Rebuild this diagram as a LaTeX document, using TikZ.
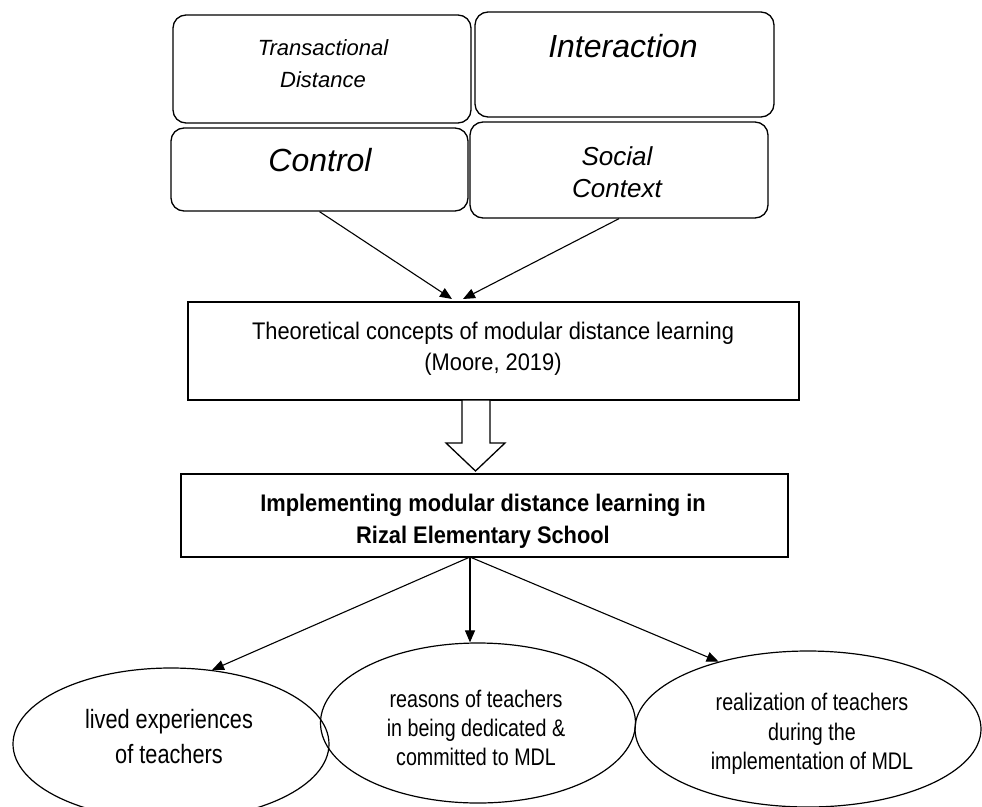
\documentclass[tikz,border=0pt]{standalone}
\usepackage{fontspec}
\setmainfont{Liberation Sans}
\newfontfamily\narrowfont{Liberation Sans}[FakeStretch=0.82]
\newfontfamily\semifont{Liberation Sans}[FakeStretch=0.91]
\usetikzlibrary{arrows.meta,shapes.geometric}
\begin{document}
\begin{tikzpicture}[x=1pt,y=-1pt,
  tbox/.style={draw, rounded corners=13pt, line width=1.3pt, inner sep=0pt},
  sbox/.style={draw, line width=1.3pt, inner sep=0pt},
  ell/.style={draw, ellipse, line width=1.2pt, inner sep=0pt},
  conn/.style={line width=1.1pt, -{Triangle[length=12pt,width=10pt]}},
  lbl/.style={align=center, inner sep=0pt}]
\useasboundingbox (0,0) rectangle (982,806);
% top boxes
\node[tbox, minimum width=298pt, minimum height=108pt] (td) at (322,69) {};
\node[lbl, font=\itshape\fontsize{22}{32}\selectfont] (tdt) at (323,64) {Transactional\\Distance};
\node[tbox, minimum width=299pt, minimum height=105pt] (inter) at (624.5,64.5) {};
\node[lbl, font=\itshape\fontsize{32}{38}\selectfont] (intert) at (623,46) {Interaction};
\node[tbox, minimum width=297pt, minimum height=83pt] (ctrl) at (319.5,169.5) {};
\node[lbl, font=\itshape\fontsize{32}{38}\selectfont] (ctrlt) at (320,160) {Control};
\node[tbox, minimum width=298pt, minimum height=96pt] (soc) at (619,170) {};
\node[lbl, font=\itshape\fontsize{26}{32}\selectfont] (soct) at (617,172) {Social\\Context};
% theoretical
\node[sbox, minimum width=611pt, minimum height=98pt] (theo) at (493.5,351) {};
\node[lbl, font=\semifont\fontsize{24}{31}\selectfont] (theot) at (493,349) {Theoretical concepts of modular distance learning\\(Moore, 2019)};
% hollow arrow
\draw[line width=1.3pt, fill=white] (462,400) -- (462,443) -- (446,443) -- (475.5,471) -- (505,443) -- (490,443) -- (490,400) -- cycle;
% implementing
\node[sbox, minimum width=607pt, minimum height=83pt] (impl) at (484.5,515.5) {};
\node[lbl, font=\semifont\bfseries\fontsize{24}{32}\selectfont] (implt) at (483,521) {Implementing modular distance learning in\\Rizal Elementary School};
% ellipses
\node[ell, minimum width=316pt, minimum height=152pt] (left) at (171,744) {};
\node[lbl, font=\narrowfont\fontsize{26.5}{35}\selectfont] (leftt) at (169,737) {lived experiences\\of teachers};
\node[ell, minimum width=315pt, minimum height=160pt] (mid) at (478,723) {};
\node[lbl, font=\narrowfont\fontsize{24}{29}\selectfont] (midt) at (476,728) {reasons of teachers\\in being dedicated \&\\committed to MDL};
\node[ell, minimum width=346pt, minimum height=156pt] (right) at (808,729) {};
\node[lbl, font=\narrowfont\fontsize{24}{29.5}\selectfont] (rightt) at (812,734) {realization of teachers\\during the\\implementation of MDL};
% connectors
\coordinate (ta) at (452,299);
\coordinate (tb) at (463,299);
\draw[conn] (ctrl.south) -- (ta);
\draw[conn] (soc.south) -- (tb);
\coordinate (br) at (470,557);
\draw[conn] (br) -- (left.61);
\draw[conn] (br) -- (br |- mid.north);
\draw[conn] (br) -- (right.143);
\end{tikzpicture}
\end{document}
